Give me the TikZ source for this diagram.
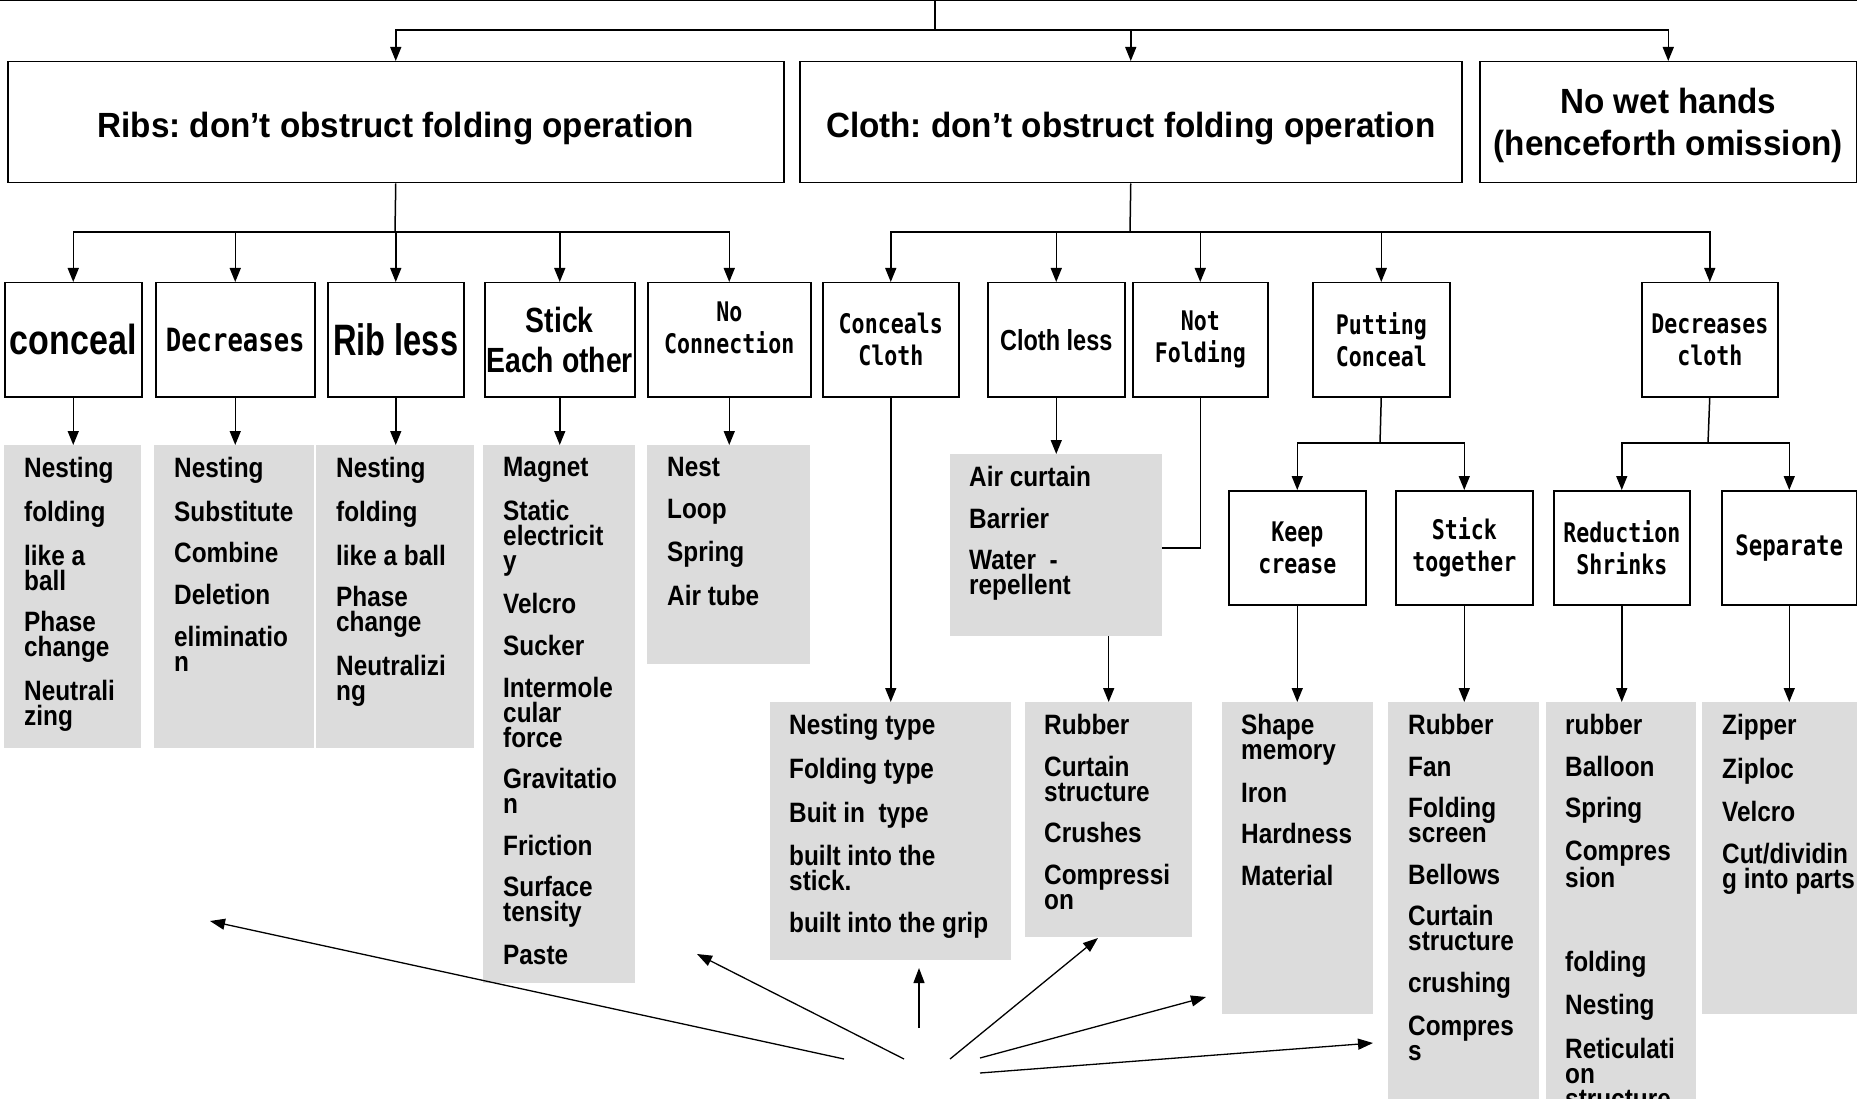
\documentclass[tikz,border=0pt]{standalone}
\usepackage{fontspec}
\usetikzlibrary{arrows.meta}
\newfontfamily\fHead{Liberation Sans}[FakeStretch=0.95]
\newfontfamily\fCond{Liberation Sans}[FakeStretch=0.81]
\newfontfamily\fCondB{Liberation Sans}[FakeStretch=0.74]
\newfontfamily\fList{Liberation Sans}[FakeStretch=0.87]
\newfontfamily\fMono{DejaVu Sans Mono}[FakeStretch=0.8]
\definecolor{lgray}{RGB}{220,220,220}
\newcommand\NX{\\[16.6pt]}
\frenchspacing
\begin{document}
\begin{tikzpicture}[x=1pt,y=-1pt,
  bx/.style={draw, line width=1.5pt, inner sep=0pt, anchor=north west, align=center},
  gl/.style={fill=lgray, inner sep=0pt, anchor=north west},
  lt/.style={inner sep=0pt, anchor=north west, align=left,
     font=\fList\bfseries\fontsize{28}{25}\selectfont},
  ln/.style={line width=1.5pt},
  arr/.style={line width=1.5pt, -{Triangle[length=14pt,width=11pt]}},
  farr/.style={line width=1.3pt, -{Triangle[length=15pt,width=11pt]}},
  hdr/.style={font=\fHead\bfseries\fontsize{35}{42}\selectfont},
  mono/.style={font=\fMono\bfseries\fontsize{27}{32}\selectfont},
]
\path[use as bounding box] (0,0) rectangle (1857,1099);
\clip (0,0) rectangle (1857,1099);

% root (cut off at top)
\node[draw, line width=1.5pt, minimum width=1900pt, minimum height=100pt, anchor=south] (root) at (928.5,1) {};

% level 1
\node[bx, hdr, text height=31pt, text depth=0pt, minimum width=776pt, minimum height=121pt] (h1) at (7,61) {Ribs: don’t obstruct folding operation};
\node[bx, hdr, text height=31pt, text depth=0pt, minimum width=662pt, minimum height=121pt] (h2) at (799,61) {Cloth: don’t obstruct folding operation};
\node[bx, hdr, text depth=0pt, minimum width=377pt, minimum height=121pt] (h3) at (1479,61) {No wet hands\\(henceforth omission)};

% level 2 (ribs)
\node[bx, font=\fCond\bfseries\fontsize{42}{46}\selectfont, minimum width=137pt, minimum height=114pt] (c1) at (4,282) {conceal};
\node[bx, font=\fMono\bfseries\fontsize{32}{36}\selectfont, minimum width=159pt, minimum height=114pt] (c2) at (155,282) {Decreases};
\node[bx, font=\fCondB\bfseries\fontsize{44}{48}\selectfont, minimum width=136pt, minimum height=114pt] (c3) at (327,282) {Rib less};
\node[bx, font=\fCond\bfseries\fontsize{35}{40}\selectfont, minimum width=150pt, minimum height=114pt] (c4) at (484,282) {Stick\\Each other};
\node[bx, mono, text depth=24pt, minimum width=163pt, minimum height=114pt] (c5) at (647,282) {No\\Connection};

% level 2 (cloth)
\node[bx, mono, minimum width=136pt, minimum height=114pt] (d1) at (822,282) {Conceals\\Cloth};
\node[bx, font=\fCond\bfseries\fontsize{29}{33}\selectfont, minimum width=137pt, minimum height=114pt] (d2) at (987,282) {Cloth less};
\node[bx, mono, minimum width=135pt, minimum height=114pt] (d3) at (1132,282) {Not\\Folding};
\node[bx, mono, minimum width=137pt, minimum height=114pt] (d4) at (1312,282) {Putting\\Conceal};
\node[bx, mono, minimum width=136pt, minimum height=114pt] (d5) at (1641,282) {Decreases\\cloth};

% level 3
\node[bx, mono, minimum width=137pt, minimum height=114pt] (e1) at (1228,490) {Keep\\crease};
\node[bx, mono, minimum width=137pt, minimum height=114pt] (e2) at (1395,490) {Stick\\together};
\node[bx, mono, minimum width=136pt, minimum height=114pt] (e3) at (1553,490) {Reduction\\Shrinks};
\node[bx, font=\fMono\bfseries\fontsize{28}{32}\selectfont, minimum width=135pt, minimum height=114pt] (e4) at (1721,490) {Separate};

% gray lists
\node[gl, minimum width=137pt, minimum height=303pt] (L1) at (4,445) {};
\node[gl, minimum width=160pt, minimum height=303pt] (L2) at (154,445) {};
\node[gl, minimum width=158pt, minimum height=303pt] (L3) at (316,445) {};
\node[gl, minimum width=152pt, minimum height=538pt] (L4) at (483,445) {};
\node[gl, minimum width=163pt, minimum height=219pt] (L5) at (647,445) {};
\node[gl, minimum width=241pt, minimum height=258pt] (L6) at (770,702) {};
\node[gl, minimum width=212pt, minimum height=182pt] (L7) at (950,454) {};
\node[gl, minimum width=167pt, minimum height=235pt] (L8) at (1025,702) {};
\node[gl, minimum width=151pt, minimum height=312pt] (L9) at (1222,702) {};
\node[gl, minimum width=151pt, minimum height=420pt] (L10) at (1388,702) {};
\node[gl, minimum width=150pt, minimum height=420pt] (L11) at (1546,702) {};
\node[gl, minimum width=160pt, minimum height=312pt] (L12) at (1702,702) {};

% list texts
\node[lt] (L1t) at (24,457) {Nesting\NX folding\NX like a\\ball\NX Phase\\change\NX Neutrali\\zing};
\node[lt] (L2t) at (174,457) {Nesting\NX Substitute\NX Combine\NX Deletion\NX eliminatio\\n};
\node[lt] (L3t) at (336,457) {Nesting\NX folding\NX like a ball\NX Phase\\change\NX Neutralizi\\ng};
\node[lt] (L4t) at (503,457) {Magnet\NX Static\\electricit\\y\NX Velcro\NX Sucker\NX Intermole\\cular\\force\NX Gravitatio\\n\NX Friction\NX Surface\\tensity\NX Paste};
\node[lt] (L5t) at (667,457) {Nest\NX Loop\NX Spring\NX Air tube};
\node[lt] (L6t) at (789,714) {Nesting type\NX Folding type\NX Buit in\ \ type\NX built into the\\stick.\NX built into the grip};
\node[lt] (L7t) at (969,466) {Air curtain\NX Barrier\NX Water\ \ -\\repellent};
\node[lt] (L8t) at (1044,714) {Rubber\NX Curtain\\structure\NX Crushes\NX Compressi\\on};
\node[lt] (L9t) at (1241,714) {Shape\\memory\NX Iron\NX Hardness\NX Material};
\node[lt] (L10t) at (1408,714) {Rubber\NX Fan\NX Folding\\screen\NX Bellows\NX Curtain\\structure\NX crushing\NX Compres\\s};
\node[lt] (L11t) at (1565,714) {rubber\NX Balloon\NX Spring\NX Compres\\sion\NX \mbox{}\NX folding\NX Nesting\NX Reticulati\\on\\structure};
\node[lt] (L12t) at (1722,714) {Zipper\NX Ziploc\NX Velcro\NX Cut/dividin\\g into parts};

% connectors: root -> level 1
\coordinate (j0) at (935,30);
\draw[ln] (root.south -| j0) -- (j0);
\draw[arr] (j0) -| (h1.north);
\draw[arr] (j0) -| (h2.north);
\draw[arr] (j0) -| (h3.north);

% ribs -> level 2
\coordinate (j1) at (395,232);
\draw[ln] (h1.south) -- (j1);
\foreach \n in {c1,c2,c3,c4,c5} \draw[arr] (j1) -| (\n.north);

% cloth -> level 2
\coordinate (j2) at (1130,232);
\draw[ln] (h2.south) -- (j2);
\foreach \n in {d1,d2,d3,d4,d5} \draw[arr] (j2) -| (\n.north);

% level 2 -> lists
\draw[arr] (c1.south) -- (c1.south |- L1.north);
\draw[arr] (c2.south) -- (c2.south |- L2.north);
\draw[arr] (c3.south) -- (c3.south |- L3.north);
\draw[arr] (c4.south) -- (c4.south |- L4.north);
\draw[arr] (c5.south) -- (c5.south |- L5.north);
\draw[arr] (d1.south) -- (d1.south |- L6.north);
\draw[arr] (d2.south) -- (d2.south |- L7.north);
\draw[ln] (d3.south) |- ([yshift=-3pt]L7.east);
\draw[arr] (L8.north |- L7.south) -- (L8.north);

% putting conceal -> level 3
\coordinate (j3) at (1380,443);
\draw[ln] (d4.south) -- (j3);
\draw[arr] (j3) -| (e1.north);
\draw[arr] (j3) -| (e2.north);
% decreases cloth -> level 3
\coordinate (j4) at (1708,443);
\draw[ln] (d5.south) -- (j4);
\draw[arr] (j4) -| (e3.north);
\draw[arr] (j4) -| (e4.north);

\draw[arr] (e1.south) -- (e1.south |- L9.north);
\draw[arr] (e2.south) -- (e2.south |- L10.north);
\draw[arr] (e3.south) -- (e3.south |- L11.north);
\draw[arr] (e4.south) -- (e4.south |- L12.north);

% free arrows at the bottom
\coordinate (s1) at (844,1059); \coordinate (t1) at (210,921);
\coordinate (s2) at (904,1059); \coordinate (t2) at (697,954);
\coordinate (s3) at (919,1028); \coordinate (t3) at (919,968);
\coordinate (s4) at (950,1059); \coordinate (t4) at (1098,938);
\coordinate (s5) at (980,1058); \coordinate (t5) at (1206,997);
\coordinate (s6) at (980,1073); \coordinate (t6) at (1373,1043);
\foreach \i in {1,...,6} \draw[farr] (s\i) -- (t\i);
\end{tikzpicture}
\end{document}
